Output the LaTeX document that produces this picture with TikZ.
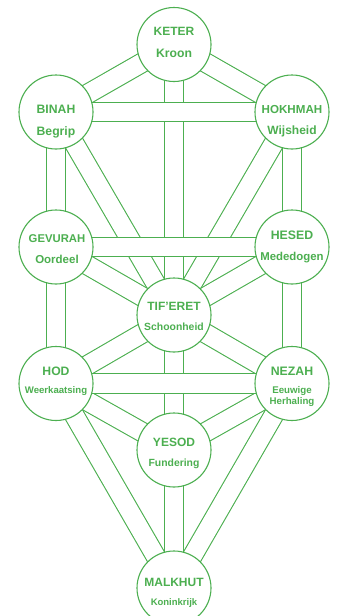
\documentclass[tikz,border=0pt]{standalone}
\usepackage{fontspec}
\setmainfont{Liberation Sans}
\usetikzlibrary{backgrounds}
\definecolor{treegreen}{RGB}{76,175,80}
\tikzset{
  sefira/.style={circle,draw=treegreen,fill=white,line width=1.1pt,minimum size=74pt,inner sep=0pt},
  band/.style={draw=treegreen,line width=1.1pt,double=white,double distance=18.4pt},
  sefname/.style={text=treegreen,anchor=base,inner sep=0pt,font=\bfseries\fontsize{#1}{#1}\selectfont},
  sefname/.default=12
}
\begin{document}
\begin{tikzpicture}[x=1pt,y=-1pt]
    \useasboundingbox (0,0) rectangle (337,616);

    \node[sefira] (keter)   at (174,44.5) {};
    \node[sefira] (binah)   at (56,112)   {};
    \node[sefira] (hokhmah) at (292,112)  {};
    \node[sefira] (gevurah) at (56,247)   {};
    \node[sefira] (hesed)   at (292,247)  {};
    \node[sefira] (tiferet) at (174,315)  {};
    \node[sefira] (hod)     at (56,383.5) {};
    \node[sefira] (nezah)   at (292,383.5) {};
    \node[sefira] (yesod)   at (174,450)  {};
    \node[sefira] (malkhut) at (174,588)  {};

    \node[sefname] (keter-n)   at (174,35.7)  {KETER};
    \node[sefname=12.2] (keter-s) at (174,57.3) {Kroon};
    \node[sefname=12.2] (binah-n) at (56,113.8) {BINAH};
    \node[sefname=12.2] (binah-s) at (56,135.3) {Begrip};
    \node[sefname=11.6] (hokhmah-n) at (292,113.8) {HOKHMAH};
    \node[sefname] (hokhmah-s) at (292,134.8) {Wijsheid};
    \node[sefname=11.3] (gevurah-n) at (57,242.7) {GEVURAH};
    \node[sefname=11.5] (gevurah-s) at (57,263.3) {Oordeel};
    \node[sefname=12.3] (hesed-n) at (292,239.3) {HESED};
    \node[sefname=11.4] (hesed-s) at (292,260.7) {Mededogen};
    \node[sefname] (tiferet-n) at (174,310.7) {TIF'ERET};
    \node[sefname=10.4] (tiferet-s) at (174,330) {Schoonheid};
    \node[sefname=12.2] (hod-n) at (56,375) {HOD};
    \node[sefname=9.6] (hod-s) at (56,393.3) {Weerkaatsing};
    \node[sefname=12.3] (nezah-n) at (292,375) {NEZAH};
    \node[sefname=9.7] (nezah-s) at (292,393.3) {Eeuwige};
    \node[sefname=9.7] (nezah-t) at (292,404.3) {Herhaling};
    \node[sefname] (yesod-n) at (174,446) {YESOD};
    \node[sefname=10.4] (yesod-s) at (174,466) {Fundering};
    \node[sefname] (malkhut-n) at (174,586.7) {MALKHUT};
    \node[sefname=9.5] (malkhut-s) at (174,605.5) {Koninkrijk};

    \begin{scope}[on background layer]
        % paths
        \draw[band] (keter.center) -- (binah.center);
        \draw[band] (keter.center) -- (hokhmah.center);
        \draw[band] (keter.center) -- (tiferet.center);
        \draw[band] (binah.center) -- (gevurah.center);
        \draw[band] (binah.center) -- (tiferet.center);
        \draw[band] (hokhmah.center) -- (hesed.center);
        \draw[band] (hokhmah.center) -- (tiferet.center);
        \draw[band] (gevurah.center) -- (tiferet.center);
        \draw[band] (gevurah.center) -- (hod.center);
        \draw[band] (hesed.center) -- (tiferet.center);
        \draw[band] (hesed.center) -- (nezah.center);
        \draw[band] (tiferet.center) -- (hod.center);
        \draw[band] (tiferet.center) -- (nezah.center);
        \draw[band] (tiferet.center) -- (yesod.center);
        \draw[band] (hod.center) -- (yesod.center);
        \draw[band] (hod.center) -- (malkhut.center);
        \draw[band] (nezah.center) -- (yesod.center);
        \draw[band] (nezah.center) -- (malkhut.center);
        \draw[band] (yesod.center) -- (malkhut.center);
        % horizontal paths on top
        \draw[band] (binah.center) -- (hokhmah.center);
        \draw[band] (gevurah.center) -- (hesed.center);
        \draw[band] (hod.center) -- (nezah.center);
    \end{scope}
\end{tikzpicture}
\end{document}
